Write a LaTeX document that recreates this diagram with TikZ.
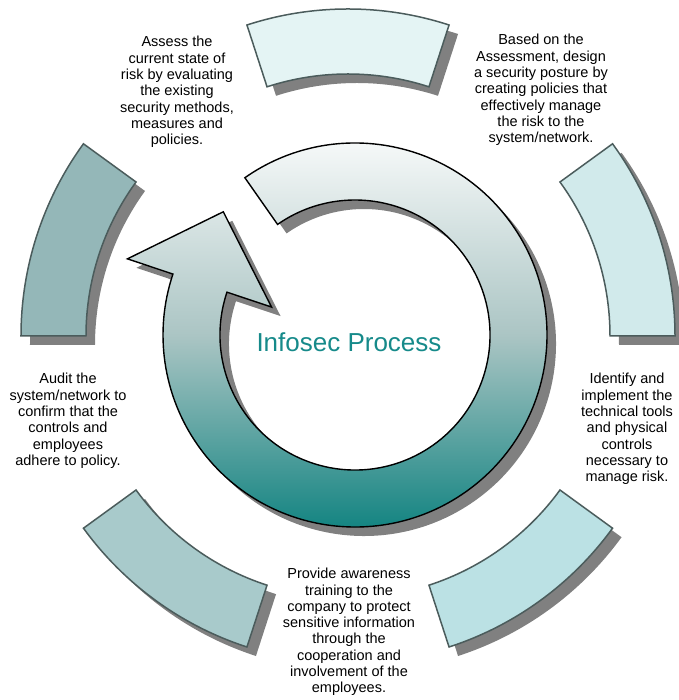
\documentclass[tikz,border=0pt]{standalone}
\usepackage{fontspec}
\setmainfont{Liberation Sans}
\usetikzlibrary{positioning}

\definecolor{segA}{HTML}{E4F4F4}
\definecolor{segB}{HTML}{D1EAEB}
\definecolor{segC}{HTML}{BBE1E4}
\definecolor{segD}{HTML}{A8CACB}
\definecolor{segE}{HTML}{94B7B8}
\definecolor{segline}{HTML}{4B5C5C}
\definecolor{ringmid}{HTML}{ABC5C4}
\definecolor{ringteal}{HTML}{007C79}
\definecolor{titleteal}{HTML}{168A8A}

\tikzset{
    segment/.style={draw=segline, line width=1.5pt, line join=miter},
    shadowfill/.style={fill=black!50},
    steptext/.style={align=center, inner sep=0pt, font=\fontsize{14.5}{16.3}\selectfont},
}

% outline of the circular arrow (centred on the origin)
\newcommand{\ringoutline}{(125:192) arc[start angle=125, end angle=-198.5, radius=192]
    -- (161.5:240) -- (-131.7,123.2) -- (161.5:88) -- (161.5:135)
    arc[start angle=-198.5, end angle=125, radius=135] -- cycle}

\begin{document}
\begin{tikzpicture}[x=1pt, y=1pt]
    \useasboundingbox (-348,-364) rectangle (330,336);

    % 5 segments of the outer ring
    \foreach \a/\col in {72/segA, 0/segB, -72/segC, -144/segD, 144/segE} {
        \fill[shadowfill, shift={(9,-9)}] (\a:327) arc[start angle=\a, delta angle=36, radius=327]
            -- ({\a+36}:262) arc[start angle={\a+36}, delta angle=-36, radius=262] -- cycle;
        \filldraw[segment, fill=\col] (\a:327) arc[start angle=\a, delta angle=36, radius=327]
            -- ({\a+36}:262) arc[start angle={\a+36}, delta angle=-36, radius=262] -- cycle;
    }

    % circular arrow
    \fill[shadowfill, shift={(16,-8)}] \ringoutline;
    \shadedraw[shift={(7,1)}, top color=white, bottom color=ringteal, middle color=ringmid, draw=black, line width=1.4pt] \ringoutline;
    \node[anchor=base, inner sep=0pt, text=titleteal, font=\fontsize{26}{30}\selectfont] (title) at (1,-16) {Infosec Process};

    % step descriptions
    \node[steptext] (assess) at (-171,244) {Assess the\\current state of\\risk by evaluating\\the existing\\security methods,\\measures and\\policies.};
    \node[steptext] (design) at (193,246) {Based on the\\Assessment, design\\a security posture by\\creating policies that\\effectively manage\\the risk to the\\system/network.};
    \node[steptext] (implement) at (279,-93) {Identify and\\implement the\\technical tools\\and physical\\controls\\necessary to\\manage risk.};
    \node[steptext] (train) at (1,-296) {Provide awareness\\training to the\\company to protect\\sensitive information\\through the\\cooperation and\\involvement of the\\employees.};
    \node[steptext] (audit) at (-280,-85) {Audit the\\system/network to\\confirm that the\\controls and\\employees\\adhere to policy.};
\end{tikzpicture}
\end{document}
